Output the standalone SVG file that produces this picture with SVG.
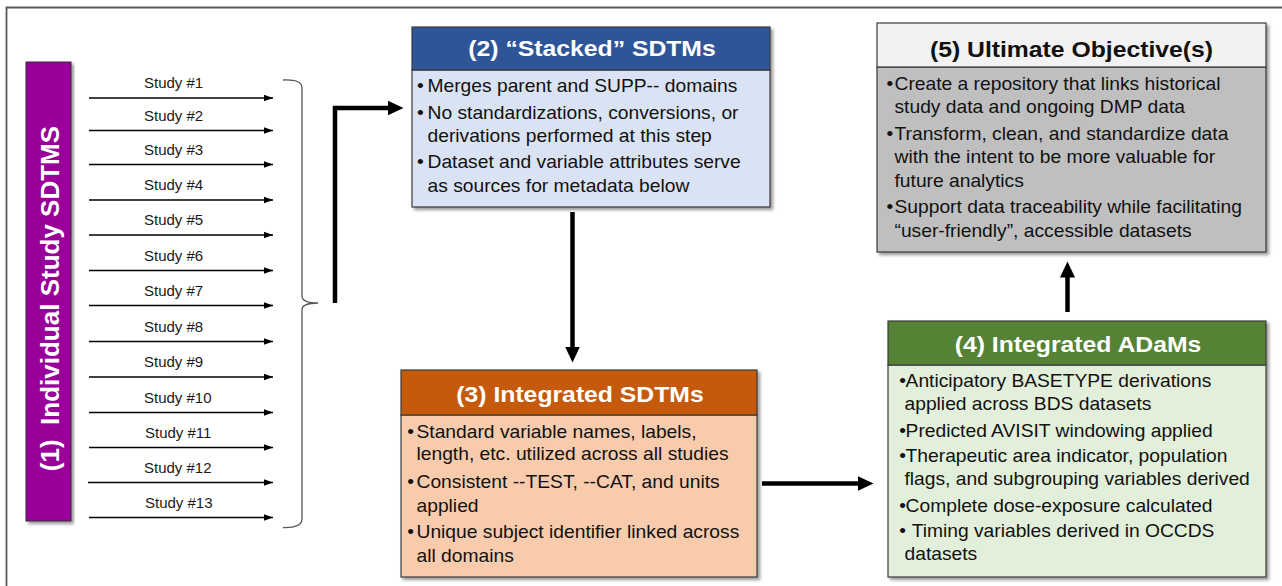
<svg xmlns="http://www.w3.org/2000/svg" width="1282" height="586" viewBox="0 0 1282 586">
<style>
text { font-family: "Liberation Sans", Arial, sans-serif; }
.hd { font-size: 22.5px; font-weight: bold; text-anchor: middle; }
.bd { font-size: 17.5px; fill: #111; }
.bl { font-size: 17.5px; fill: #111; text-anchor: middle; }
.st { font-size: 15px; fill: #1a1a1a; }
.frame { fill: none; stroke: #595959; stroke-width: 1.8; }
.bx { stroke: #3a3a3a; stroke-width: 1.2; }
.thin { fill: none; stroke: #000; stroke-width: 1.5; marker-end: url(#sa); }
.thick { fill: none; stroke: #000; stroke-width: 4.5; stroke-linejoin: miter; marker-end: url(#ta); }
.brace { fill: none; stroke: #555; stroke-width: 1.3; }
</style>
<defs>
<filter id="sh" x="-5%" y="-5%" width="112%" height="115%">
<feDropShadow dx="2.5" dy="2.5" stdDeviation="1.5" flood-color="#000" flood-opacity="0.4"/>
</filter>
<marker id="sa" markerUnits="userSpaceOnUse" markerWidth="10" markerHeight="8" refX="9" refY="4" orient="auto">
<path d="M0,0.8 L9,4 L0,7.2 z" fill="#000"/>
</marker>
<marker id="ta" markerUnits="userSpaceOnUse" markerWidth="17" markerHeight="16" refX="0.5" refY="7.5" orient="auto">
<path d="M0,0 L16,7.5 L0,15 z" fill="#000"/>
</marker>
</defs>
<rect width="1282" height="586" fill="#fff"/>
<path class="frame" d="M6.5,586 V7.5 H1282"/>

<g id="node1">
<rect x="26" y="62" width="45" height="459" fill="#990099" stroke="#333" stroke-width="1" filter="url(#sh)"/>
<text transform="translate(59,298.5) rotate(-90)" xml:space="preserve" style="font-size:26px;font-weight:bold;fill:#fff;text-anchor:middle">(1)  Individual Study SDTMS</text>
</g>

<g id="studies">
<text class="st" x="144" y="88.3">Study #1</text>
<text class="st" x="144" y="120.8">Study #2</text>
<text class="st" x="144" y="154.8">Study #3</text>
<text class="st" x="144" y="190.3">Study #4</text>
<text class="st" x="144" y="225.3">Study #5</text>
<text class="st" x="144" y="260.8">Study #6</text>
<text class="st" x="144" y="295.8">Study #7</text>
<text class="st" x="144" y="331.8">Study #8</text>
<text class="st" x="144" y="367.3">Study #9</text>
<text class="st" x="144" y="402.8">Study #10</text>
<text class="st" x="145" y="437.8">Study #11</text>
<text class="st" x="144" y="472.8">Study #12</text>
<text class="st" x="145" y="507.8">Study #13</text>
</g>

<g id="node2" filter="url(#sh)">
<rect class="bx" x="412" y="70" width="358" height="137" fill="#DAE3F3"/>
<rect class="bx" x="412" y="27" width="358" height="43" fill="#2F5597"/>
</g>
<g id="node2-text">
<text class="hd" transform="translate(592,56) scale(1.1,1)" x="0" y="0" fill="#fff">(2) “Stacked” SDTMs</text>
<g transform="translate(427.5,0) scale(1.1,1)">
<text class="bl" x="-6.4" y="91.7">•</text><text class="bd" x="0" y="91.7">Merges parent and SUPP-- domains</text>
<text class="bl" x="-6.4" y="119">•</text><text class="bd" x="0" y="119">No standardizations, conversions, or</text>
<text class="bd" x="0" y="141.7">derivations performed at this step</text>
<text class="bl" x="-6.4" y="167.7">•</text><text class="bd" x="0" y="167.7">Dataset and variable attributes serve</text>
<text class="bd" x="0" y="191.7">as sources for metadata below</text>
</g>
</g>

<g id="node5" filter="url(#sh)">
<rect class="bx" x="877" y="67" width="389" height="185" fill="#BFBFBF"/>
<rect class="bx" x="877" y="23" width="389" height="44" fill="#F2F2F2"/>
</g>
<g id="node5-text">
<text class="hd" transform="translate(1071.5,56.7) scale(1.1,1)" x="0" y="0" fill="#111">(5) Ultimate Objective(s)</text>
<g transform="translate(894.5,0) scale(1.1,1)">
<text class="bl" x="-4.3" y="90">•</text><text class="bd" x="0" y="90">Create a repository that links historical</text>
<text class="bd" x="0" y="113">study data and ongoing DMP data</text>
<text class="bl" x="-4.3" y="140">•</text><text class="bd" x="0" y="140">Transform, clean, and standardize data</text>
<text class="bd" x="0" y="163">with the intent to be more valuable for</text>
<text class="bd" x="0" y="186.7">future analytics</text>
<text class="bl" x="-4.3" y="213.3">•</text><text class="bd" x="0" y="213.3">Support data traceability while facilitating</text>
<text class="bd" x="0" y="236.7">“user-friendly”, accessible datasets</text>
</g>
</g>

<g id="node3" filter="url(#sh)">
<rect class="bx" x="401" y="415" width="356" height="162" fill="#F8CBAD"/>
<rect class="bx" x="401" y="370" width="356" height="45" fill="#C55A11"/>
</g>
<g id="node3-text">
<text class="hd" transform="translate(580,401.7) scale(1.1,1)" x="0" y="0" fill="#fff">(3) Integrated SDTMs</text>
<g transform="translate(416.5,0) scale(1.1,1)">
<text class="bl" x="-5.3" y="438">•</text><text class="bd" x="0" y="438">Standard variable names, labels,</text>
<text class="bd" x="0" y="460">length, etc. utilized across all studies</text>
<text class="bl" x="-5.3" y="488">•</text><text class="bd" x="0" y="488">Consistent --TEST, --CAT, and units</text>
<text class="bd" x="0" y="511.7">applied</text>
<text class="bl" x="-5.3" y="538">•</text><text class="bd" x="0" y="538">Unique subject identifier linked across</text>
<text class="bd" x="0" y="561.7">all domains</text>
</g>
</g>

<g id="node4" filter="url(#sh)">
<rect class="bx" x="888" y="365" width="378" height="212" fill="#E2EFDA"/>
<rect class="bx" x="888" y="321" width="378" height="44" fill="#548235"/>
</g>
<g id="node4-text">
<text class="hd" transform="translate(1078,351.7) scale(1.1,1)" x="0" y="0" fill="#fff">(4) Integrated ADaMs</text>
<g transform="translate(904.5,0) scale(1.1,1)">
<text class="bl" x="-1.8" y="387.3">•</text><text class="bd" x="1" y="387.3">Anticipatory BASETYPE derivations</text>
<text class="bd" x="0" y="410">applied across BDS datasets</text>
<text class="bl" x="-1.8" y="437.3">•</text><text class="bd" x="1" y="437.3">Predicted AVISIT windowing applied</text>
<text class="bl" x="-1.8" y="461.7">•</text><text class="bd" x="1" y="461.7">Therapeutic area indicator, population</text>
<text class="bd" x="0" y="485">flags, and subgrouping variables derived</text>
<text class="bl" x="-1.8" y="511.7">•</text><text class="bd" x="1" y="511.7">Complete dose-exposure calculated</text>
<text class="bl" x="-1.8" y="536.7">•</text><text class="bd" x="6.5" y="536.7">Timing variables derived in OCCDS</text>
<text class="bd" x="0" y="560">datasets</text>
</g>
</g>

<g id="connectors">
<path class="thin" d="M89,98 H273"/>
<path class="thin" d="M89,130.5 H273"/>
<path class="thin" d="M89,164.5 H273"/>
<path class="thin" d="M89,200 H273"/>
<path class="thin" d="M89,235 H273"/>
<path class="thin" d="M89,270.5 H273"/>
<path class="thin" d="M89,305.5 H273"/>
<path class="thin" d="M89,341.5 H273"/>
<path class="thin" d="M89,377 H273"/>
<path class="thin" d="M89,412.5 H273"/>
<path class="thin" d="M89,447.5 H273"/>
<path class="thin" d="M88,482.5 H273"/>
<path class="thin" d="M89,517.5 H273"/>
<path class="brace" d="M283,80 Q302,79 302,88 V296 Q302,303 318,303 Q302,303 302,310 V519 Q302,528 283,527.5"/>
<path class="thick" d="M335,303 V108 H388"/>
<path class="thick" d="M572.5,212 V347"/>
<path class="thick" d="M762,483.5 H858"/>
<path class="thick" d="M1067.5,312 V277"/>
</g>
</svg>
